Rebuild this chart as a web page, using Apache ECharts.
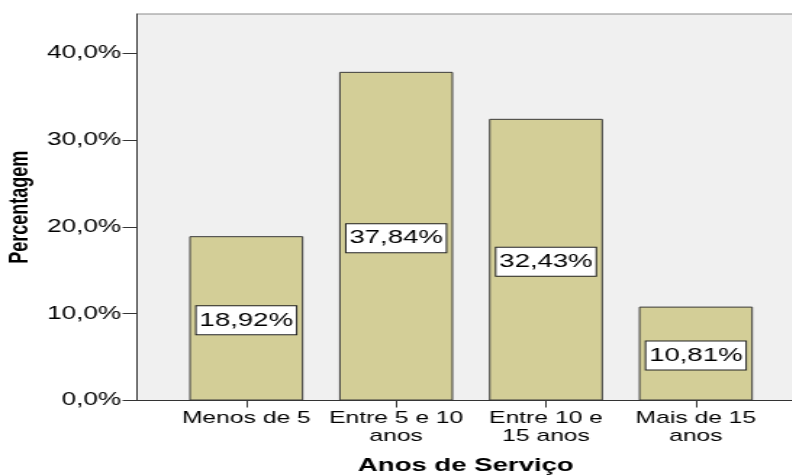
<!DOCTYPE html>
<html>
<head>
<meta charset="utf-8">
<script src="https://cdn.jsdelivr.net/npm/echarts@6/dist/echarts.min.js"></script>
<style>
html,body{margin:0;padding:0;background:#fff;overflow:hidden;width:792px;height:476px;}
#c{width:546px;height:476px;transform:scaleX(1.45);transform-origin:0 0;}
</style>
</head>
<body>
<div id="c"></div>
<script>
const categories = ["Menos de 5", "Entre 5 e 10\nanos", "Entre 10 e\n15 anos", "Mais de 15\nanos"];
const percentages = [18.92, 37.84, 32.43, 10.81];
const yTicks = [0, 10, 20, 30, 40];
const xTicks = [0, 1, 2, 3];
const xAxisTitle = "Anos de Serviço";
const yAxisTitle = "Percentagem";

const FONT = "'Liberation Sans', Arial, sans-serif";
const chart = echarts.init(document.getElementById('c'), null, {renderer: 'canvas'});
chart.setOption({
  backgroundColor: '#ffffff',
  animation: false,
  grid: {left: 94.5, right: -2, top: 14, bottom: 75.5, show: true,
         outerBoundsMode: 'none', containLabel: false,
         backgroundColor: '#f0f0f0', borderColor: '#8a8a8a', borderWidth: 1},
  xAxis: {
    type: 'value', min: -0.729, max: 3.659,
    name: xAxisTitle, nameLocation: 'middle', nameGap: 56, nameMoveOverlap: false,
    nameTextStyle: {fontFamily: FONT, fontSize: 19, fontWeight: 'bold', color: '#000'},
    axisLine: {show: true, onZero: false, lineStyle: {color: '#333', width: 1}},
    axisTick: {show: true, length: 7, customValues: xTicks, lineStyle: {color: '#333'}},
    splitLine: {show: false},
    axisLabel: {customValues: xTicks, margin: 9, fontFamily: FONT, fontSize: 17, color: '#000', lineHeight: 18,
      formatter: v => categories[Math.round(v)] || ''}
  },
  yAxis: {
    type: 'value', min: 0, max: 44.5,
    name: yAxisTitle, nameLocation: 'middle', nameGap: 71, nameRotate: 90, nameMoveOverlap: false,
    nameTextStyle: {fontFamily: FONT, fontSize: 18, fontWeight: 'bold', color: '#000'},
    axisLine: {show: true, onZero: false, lineStyle: {color: '#333', width: 1}},
    axisTick: {show: true, length: 10, customValues: yTicks, lineStyle: {color: '#333'}},
    splitLine: {show: false},
    axisLabel: {customValues: yTicks, margin: 11, fontFamily: FONT, fontSize: 18, color: '#000',
      formatter: v => v.toFixed(1).replace('.', ',') + '%'}
  },
  series: [{
    type: 'bar',
    barWidth: 78.6,
    data: percentages.map((v, i) => [xTicks[i], v]),
    itemStyle: {color: '#d3ce97', borderColor: '#3a3a3a', borderWidth: 1},
    label: {
      show: true, position: 'inside', offset: [0, 2],
      fontFamily: FONT, fontSize: 19, color: '#000',
      backgroundColor: '#ffffff', borderColor: '#222', borderWidth: 1,
      padding: [5, 2, 4, 2],
      formatter: p => p.value[1].toFixed(2).replace('.', ',') + '%'
    }
  }]
});
</script>
</body>
</html>
